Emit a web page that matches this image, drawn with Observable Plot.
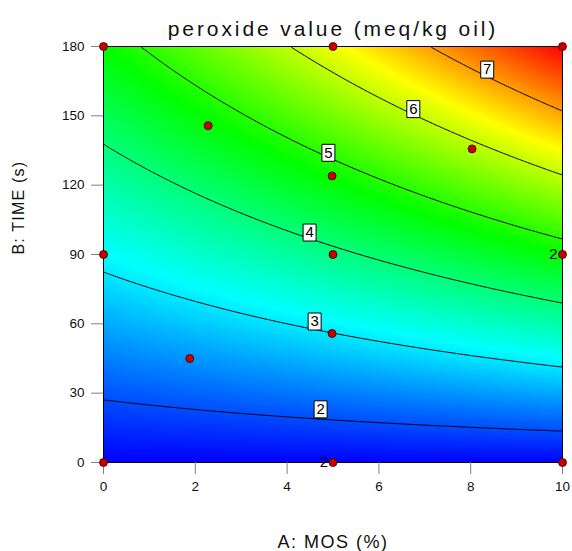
<!DOCTYPE html>
<html><head><meta charset="utf-8">
<script src="https://cdn.jsdelivr.net/npm/d3@7"></script>
<script src="https://cdn.jsdelivr.net/npm/@observablehq/plot@0.6"></script>
<style>body{margin:0;background:#fff}</style>
</head><body><div id="chart"></div>
<script>
const xTicks = [0, 2, 4, 6, 8, 10];
const yTicks = [0, 30, 60, 90, 120, 150, 180];
// fitted response surface: PV = b0 + B*(b1 + b2*A + b3*A^2)
const coefficients = [1.51, 0.01808, 0.00161, 0.0000192];
const contourLevels = [2, 3, 4, 5, 6, 7];
const colorStops = ["#0000ff", "#00ffff", "#00ff00", "#ffff00", "#ff0000"];
const designA = [0, 5, 10, 2.28, 8.03, 4.98, 0, 5, 10, 4.98, 1.88, 0, 5, 10];
const designB = [180, 180, 180, 145.7, 135.7, 124, 90, 90, 90, 55.8, 45, 0, 0, 0];
const labelA = [4.73, 4.60, 4.49, 4.90, 6.75, 8.36];
const labelB = [23, 61, 99.5, 134, 152.9, 170];
const labelText = ["2", "3", "4", "5", "6", "7"];
const repA = [5, 10];
const repB = [0, 90];
const repText = ["2", "2"];
const titleText = "peroxide value (meq/kg oil)";
const xLabel = "A: MOS (%)";
const yLabel = "B: TIME (s)";

const [b0, b1, b2, b3] = coefficients;
const pv = (a, b) => b0 + b * (b1 + b2 * a + b3 * a * a);
const vMin = pv(0, 0), vMax = pv(10, 180);
const colorDomain = colorStops.map((_, i) => vMin + (vMax - vMin) * i / (colorStops.length - 1));

const points = designA.map((a, i) => ({a, b: designB[i]}));
const labels = labelA.map((a, i) => ({a, b: labelB[i], t: labelText[i]}));
const reps = repA.map((a, i) => ({a, b: repB[i], t: repText[i]}));
const boxSymbol = {draw(ctx) { ctx.rect(-6.5, -8.5, 13, 17); }};
const font = "Liberation Sans, Arial, sans-serif";

const chart = Plot.plot({
  width: 572, height: 551,
  marginLeft: 103, marginRight: 10, marginTop: 46, marginBottom: 89,
  style: {fontFamily: font, fontSize: "13.5px", background: "#fff"},
  x: {domain: [0, 10]},
  y: {domain: [0, 180]},
  color: {type: "linear", domain: colorDomain, range: colorStops, interpolate: "rgb"},
  marks: [
    Plot.raster({fill: (x, y) => pv(x, y), x1: 0, x2: 10, y1: 0, y2: 180, pixelSize: 1}),
    Plot.contour({value: (x, y) => pv(x, y), x1: 0, x2: 10, y1: 0, y2: 180, thresholds: contourLevels, stroke: "black", fill: "none", strokeWidth: 1}),
    Plot.frame({stroke: "black"}),
    Plot.axisX({ticks: xTicks, tickSize: 12, tickPadding: 7, stroke: "#808080", fill: "#111", label: null, fontSize: 13.5}),
    Plot.axisY({ticks: yTicks, tickSize: 12, tickPadding: 7, stroke: "#808080", fill: "#111", label: null, fontSize: 13.5}),
    Plot.dot(labels, {x: "a", y: "b", symbol: boxSymbol, fill: "white", stroke: "black", strokeWidth: 1}),
    Plot.text(labels, {x: "a", y: "b", text: "t", fontSize: 15, fill: "black"}),
    Plot.dot(points, {x: "a", y: "b", r: 4, fill: "#c80000", stroke: "#3a0000", strokeWidth: 0.8}),
    Plot.text(reps, {x: "a", y: "b", text: "t", textAnchor: "end", dx: -5, fontSize: 15, fill: "black"}),
    Plot.text([titleText], {frameAnchor: "top", lineAnchor: "bottom", dy: -11, fontSize: 21, fill: "#111"}),
    Plot.text([yLabel], {frameAnchor: "left", rotate: -90, dx: -85, fontSize: 16, fill: "#111"}),
    Plot.text([xLabel], {frameAnchor: "bottom", lineAnchor: "bottom", dy: 85, fontSize: 18, fill: "#111"})
  ]
});
const spacing = {[titleText]: "2.9px", [xLabel]: "1.5px", [yLabel]: "1.2px"};
d3.select(chart).selectAll("text").each(function () {
  const s = spacing[this.textContent];
  if (s) this.style.letterSpacing = s;
});
document.getElementById("chart").appendChild(chart);
</script>
</body></html>
